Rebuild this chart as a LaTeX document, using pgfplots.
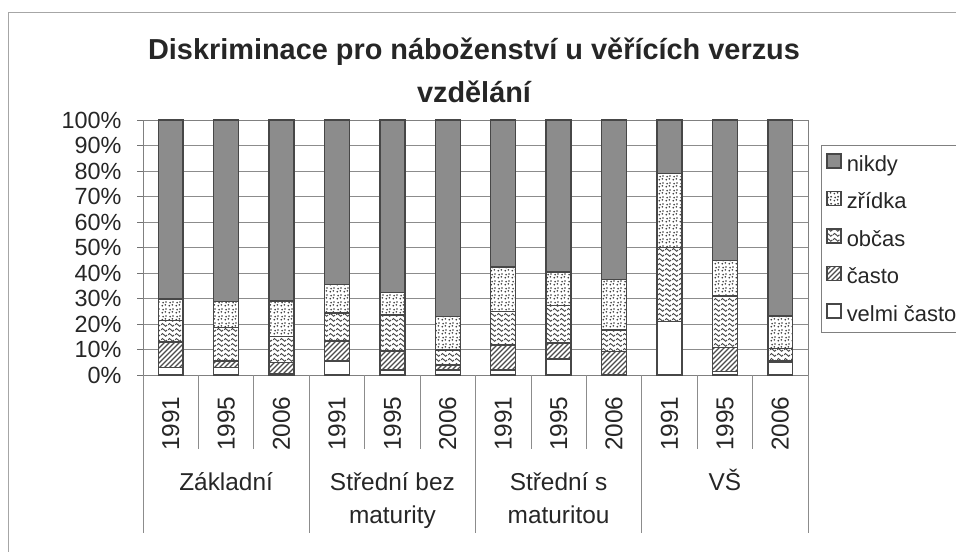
\documentclass[border=0pt]{standalone}
\usepackage{pgfplots}
\pgfplotsset{compat=1.18}
\usepackage{pgfplotstable}
\usepackage{fontspec}
\setmainfont{Liberation Sans}
\usetikzlibrary{patterns}

\pgfdeclarepatternformonly{blobs}{\pgfqpoint{0bp}{0bp}}{\pgfqpoint{7bp}{7bp}}{\pgfqpoint{7bp}{7bp}}{%
  \pgfpathcircle{\pgfqpoint{1.5bp}{1.5bp}}{1.05bp}%
  \pgfpathcircle{\pgfqpoint{5.0bp}{2.4bp}}{1.05bp}%
  \pgfpathcircle{\pgfqpoint{2.4bp}{5.0bp}}{1.05bp}%
  \pgfpathcircle{\pgfqpoint{5.6bp}{5.7bp}}{1.0bp}%
  \pgfusepath{fill}}
\pgfdeclarepatternformonly{waves}{\pgfqpoint{0bp}{0bp}}{\pgfqpoint{7bp}{5bp}}{\pgfqpoint{7bp}{5bp}}{%
  \pgfsetlinewidth{1.1bp}%
  \pgfpathmoveto{\pgfqpoint{0bp}{2.5bp}}%
  \pgfpathcurveto{\pgfqpoint{1.2bp}{4.6bp}}{\pgfqpoint{2.3bp}{4.6bp}}{\pgfqpoint{3.5bp}{2.5bp}}%
  \pgfpathcurveto{\pgfqpoint{4.7bp}{0.4bp}}{\pgfqpoint{5.8bp}{0.4bp}}{\pgfqpoint{7bp}{2.5bp}}%
  \pgfusepath{stroke}}
\pgfdeclarepatternformonly{hatch}{\pgfqpoint{-1bp}{-1bp}}{\pgfqpoint{6bp}{6bp}}{\pgfqpoint{5bp}{5bp}}{%
  \pgfsetlinewidth{1.3bp}%
  \pgfpathmoveto{\pgfqpoint{0bp}{0bp}}%
  \pgfpathlineto{\pgfqpoint{5.1bp}{5.1bp}}%
  \pgfusepath{stroke}}

\pgfplotstableread{
x velmi casto obcas zridka nikdy
0  3.0 9.9  8.4  8.5  70.2
1  3.0 2.5  13.1 10.3 71.1
2  0.5 4.5  10.0 14.0 71.0
3  5.5 7.9  10.9 11.1 64.6
4  2.0 7.4  14.2 8.8  67.6
5  2.0 1.9  5.9  13.2 77.0
6  2.0 9.8  13.1 17.5 57.6
7  6.3 6.2  14.7 13.2 59.6
8  0.3 8.9  8.5  19.7 62.6
9  21.0 0.0 28.9 29.1 21.0
10 1.3 9.6  20.1 14.0 55.0
11 5.0 0.5  5.0  12.7 76.8
}\datatable

\pgfplotsset{myleg/.style={legend image code/.code={\draw[##1] (3bp,-4bp) rectangle (17bp,10bp);}}}

\begin{document}
\begin{tikzpicture}
\path[use as bounding box] (0,0) rectangle (956bp,552bp);
\draw[black!35, line width=0.8bp] (8bp,-20bp) rectangle (990bp,540bp);
\node[font=\fontsize{29}{33}\selectfont\bfseries, text=black!85, anchor=base] at (474bp,492bp) {Diskriminace pro náboženství u věřících verzus};
\node[font=\fontsize{29}{33}\selectfont\bfseries, text=black!85, anchor=base] at (474bp,449bp) {vzdělání};
\begin{axis}[
  at={(143bp,177bp)}, anchor=south west, scale only axis,
  width=665bp, height=255bp,
  ybar stacked, bar width=0.45,
  xmin=-0.5, xmax=11.5, ymin=0, ymax=100,
  xtick={0,...,11},
  xticklabels={1991,1995,2006,1991,1995,2006,1991,1995,2006,1991,1995,2006},
  x tick style={draw=none},
  xticklabel style={rotate=90, anchor=east, font=\fontsize{24.5}{28}\selectfont, text=black!85},
  xticklabel shift=12bp,
  ytick={0,10,...,100},
  yticklabel={\pgfmathprintnumber{\tick}\%},
  /pgf/number format/assume math mode=true,
  yticklabel style={font=\fontsize{23.5}{28}\selectfont, text=black!85},
  yticklabel shift=12bp,
  ytick pos=left, tick align=outside, major tick length=6bp,
  y tick style={black!55, line width=0.8bp},
  ymajorgrids, grid style={black!45, line width=0.8bp},
  axis line style={black!50, line width=0.9bp},
  clip=false,
  reverse legend,
  legend style={at={(1.0195,0.902)}, anchor=north west, draw=black!50, line width=0.8bp,
    font=\fontsize{22}{26}\selectfont, text=black!85, row sep=16bp, column sep=3bp,
    inner xsep=5bp, inner ysep=8bp, cells={anchor=west}},
]
\addplot[myleg, draw=black!72, line width=1.4bp, fill=white] table[x=x, y=velmi] {\datatable};
\addlegendentry{velmi často}
\addplot[myleg, draw=black!72, line width=1.4bp, fill=white, postaction={pattern=hatch, pattern color=black!70}] table[x=x, y=casto] {\datatable};
\addlegendentry{často}
\addplot[myleg, draw=black!72, line width=1.4bp, fill=white, postaction={pattern=waves, pattern color=black!70}] table[x=x, y=obcas] {\datatable};
\addlegendentry{občas}
\addplot[myleg, draw=black!72, line width=1.4bp, fill=white, postaction={pattern=blobs, pattern color=black!75}] table[x=x, y=zridka] {\datatable};
\addlegendentry{zřídka}
\addplot[myleg, draw=black!72, line width=1.4bp, fill=black!45] table[x=x, y=nikdy] {\datatable};
\addlegendentry{nikdy}
\pgfplotsinvokeforeach{-0.5,2.5,5.5,8.5,11.5}{\draw[black!45, line width=0.8bp] (axis cs:#1,0) -- ([yshift=-158bp]axis cs:#1,0);}
\pgfplotsinvokeforeach{0.5,1.5,3.5,4.5,6.5,7.5,9.5,10.5}{\draw[black!45, line width=0.8bp] (axis cs:#1,0) -- ([yshift=-74bp]axis cs:#1,0);}
\end{axis}
\begin{scope}[every node/.style={font=\fontsize{24.5}{28}\selectfont, text=black!85, anchor=base}]
\node at (226.1bp,61.3bp) {Základní};
\node at (392.4bp,61.3bp) {Střední bez};
\node at (392.4bp,29bp) {maturity};
\node at (558.6bp,61.3bp) {Střední s};
\node at (558.6bp,29bp) {maturitou};
\node at (724.9bp,61.3bp) {VŠ};
\end{scope}
\end{tikzpicture}
\end{document}
